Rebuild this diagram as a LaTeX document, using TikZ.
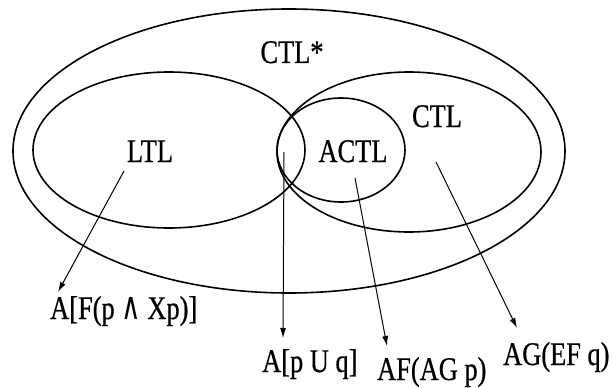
\documentclass[tikz,border=0pt]{standalone}
\usepackage{fontspec}
\setmainfont{Liberation Serif}[FakeStretch=0.8, FakeBold=0.6]
\newfontfamily\symfont{DejaVu Sans}[FakeStretch=0.7]
\usetikzlibrary{arrows.meta}
\tikzset{
  setline/.style={line width=1.6pt},
  ptr/.style={line width=1pt, -{Latex[length=10pt,width=6pt]}},
  lbl/.style={inner sep=0pt, font=\fontsize{33}{38}\selectfont},
}
\begin{document}
\begin{tikzpicture}[x=1pt,y=-1pt]
\useasboundingbox (0,0) rectangle (614,388);
% sets
\draw[setline] (289,151) ellipse [x radius=276, y radius=142];
\draw[setline] (169,150) ellipse [x radius=136, y radius=78];
\draw[setline] (409,152) ellipse [x radius=132, y radius=80];
\draw[setline] (341,150) ellipse [x radius=64, y radius=52];
% set names
\node[lbl, anchor=base] (ctlstar) at (292,63) {CTL*};
\node[lbl, anchor=base] (ltl) at (150,162) {LTL};
\node[lbl, anchor=base] (actl) at (353,162) {ACTL};
\node[lbl, anchor=base] (ctl) at (437,127) {CTL};
% example formulas
\node[lbl, anchor=base west] (f1) at (50,319) {A[F(p {\symfont\fontsize{38}{38}\selectfont ∧} Xp)]};
\node[lbl, anchor=base west] (f2) at (262,372) {A[p U q]};
\node[lbl, anchor=base west] (f3) at (377,380) {AF(AG p)};
\node[lbl, anchor=base west] (f4) at (503,365) {AG(EF q)};
% arrow ends
\coordinate (s1) at (124,171);
\coordinate (t1) at (58,292);
\coordinate (s2) at (284,152);
\coordinate (t2) at (283,338);
\coordinate (s3) at (355,178);
\coordinate (t3) at (387,346);
\coordinate (s4) at (436,162);
\coordinate (t4) at (517,328);
\draw[ptr] (s1) -- (t1);
\draw[ptr] (s2) -- (t2);
\draw[ptr] (s3) -- (t3);
\draw[ptr] (s4) -- (t4);
\end{tikzpicture}
\end{document}
